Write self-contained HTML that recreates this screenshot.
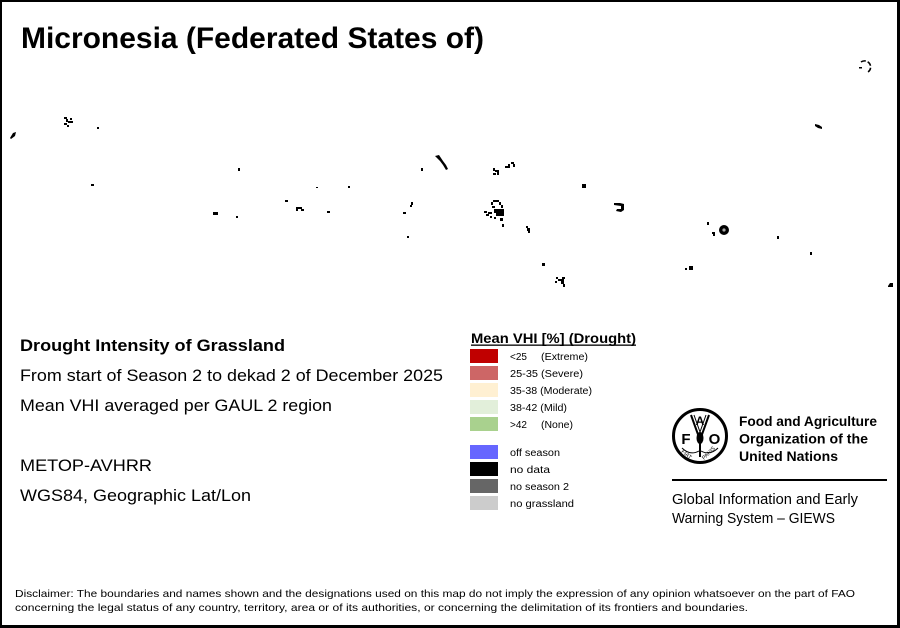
<!DOCTYPE html>
<html><head><meta charset="utf-8"><style>
html,body{margin:0;padding:0;background:#fff;}
svg{display:block;}
text{font-family:"Liberation Sans",Arial,sans-serif;fill:#000;}
</style></head><body>
<svg width="900" height="628" viewBox="0 0 900 628" xmlns="http://www.w3.org/2000/svg">
<rect x="0" y="0" width="900" height="628" fill="#fff"/>
<!-- frame -->
<rect x="1" y="1" width="897" height="625" fill="none" stroke="#000" stroke-width="2"/>
<rect x="897" y="0" width="3" height="628" fill="#000"/>
<rect x="0" y="626" width="900" height="2" fill="#000"/>

<!-- title -->
<text x="21" y="48" font-size="29.5" font-weight="bold" textLength="463" lengthAdjust="spacingAndGlyphs">Micronesia (Federated States of)</text>

<!-- islands -->
<g fill="#000">
<path d="M10 138 L13 133 L16 132 L15 136 L11 139 Z"/>
<rect x="64" y="117" width="3" height="2"/><rect x="66" y="119" width="2" height="3"/><rect x="68" y="121" width="5" height="2"/><rect x="64" y="123" width="3" height="2"/><rect x="67" y="125" width="2" height="2"/><rect x="70" y="118" width="2" height="2"/>
<rect x="97" y="127" width="2" height="2"/>
<rect x="91" y="184" width="3" height="2"/>
<rect x="238" y="168" width="2" height="3"/>
<rect x="285" y="200" width="3" height="2"/>
<rect x="296" y="207" width="2" height="4"/><rect x="298" y="207" width="4" height="2"/><rect x="301" y="209" width="3" height="2"/>
<rect x="316" y="187" width="2" height="1"/>
<rect x="327" y="211" width="3" height="2"/>
<rect x="348" y="186" width="2" height="2"/>
<rect x="213" y="212" width="5" height="3"/>
<rect x="236" y="216" width="2" height="2"/>
<rect x="421" y="168" width="2" height="3"/>
<path d="M435 156 L439 155 L441 158 L443 161 L446 165 L448 169 L446 170 L443 165 L440 161 L437 158 Z"/>
<rect x="493" y="168" width="2" height="3"/><rect x="495" y="170" width="4" height="2"/><rect x="493" y="173" width="3" height="2"/><rect x="497" y="172" width="2" height="3"/>
<rect x="505" y="166" width="3" height="2"/><rect x="508" y="164" width="2" height="4"/><rect x="511" y="162" width="3" height="2"/><rect x="513" y="164" width="2" height="3"/>
<rect x="582" y="184" width="4" height="4"/>
<rect x="411" y="202" width="2" height="3"/><rect x="410" y="205" width="2" height="2"/>
<rect x="403" y="212" width="3" height="2"/>
<rect x="407" y="236" width="2" height="2"/>
<!-- Chuuk -->
<rect x="493" y="200" width="6" height="2"/><rect x="491" y="202" width="2" height="3"/><rect x="499" y="202" width="2" height="3"/>
<rect x="501" y="205" width="2" height="3"/><rect x="492" y="206" width="3" height="2"/>
<rect x="494" y="209" width="10" height="4"/><rect x="496" y="213" width="8" height="3"/>
<rect x="484" y="211" width="3" height="2"/><rect x="488" y="212" width="4" height="2"/><rect x="486" y="214" width="3" height="2"/>
<rect x="490" y="216" width="2" height="2"/><rect x="494" y="217" width="2" height="2"/><rect x="500" y="218" width="3" height="3"/><rect x="502" y="224" width="2" height="3"/>
<rect x="526" y="226" width="2" height="2"/><rect x="527" y="228" width="3" height="3"/><rect x="528" y="231" width="2" height="2"/>
<rect x="542" y="263" width="3" height="3"/>
<rect x="556" y="277" width="2" height="2"/><rect x="558" y="279" width="6" height="2"/><rect x="562" y="277" width="3" height="2"/><rect x="561" y="281" width="3" height="3"/><rect x="563" y="284" width="2" height="3"/><rect x="555" y="281" width="2" height="2"/>
<path d="M614 203 L620 203 L624 204 L624 210 L621 212 L616 211 L617 209 L621 209 L621 206 L614 205 Z"/>
<rect x="707" y="222" width="2" height="3"/>
<rect x="712" y="232" width="3" height="2"/><rect x="713" y="234" width="2" height="2"/>
<circle cx="724" cy="230" r="5"/>
<rect x="777" y="236" width="2" height="3"/>
<rect x="810" y="252" width="2" height="3"/>
<rect x="685" y="268" width="2" height="2"/><rect x="689" y="266" width="4" height="4"/>
<path d="M815 124 L819 125 L822 127 L822 129 L818 128 L815 126 Z"/>
<path d="M888 286 L890 283 L893 283 L893 287 L888 287 Z"/>
</g>
<circle cx="724" cy="230" r="1.6" fill="#aaa"/>
<path d="M861 62 A5.5 5.5 0 1 1 868 72" fill="none" stroke="#000" stroke-width="1.6" stroke-dasharray="5 2"/>
<rect x="859" y="67" width="3" height="1.5" fill="#000"/>

<!-- left text -->
<text x="20" y="351" font-size="16.5" font-weight="bold" textLength="265" lengthAdjust="spacingAndGlyphs">Drought Intensity of Grassland</text>
<text x="20" y="381" font-size="16.5" textLength="423" lengthAdjust="spacingAndGlyphs">From start of Season 2 to dekad 2 of December 2025</text>
<text x="20" y="411" font-size="16.5" textLength="312" lengthAdjust="spacingAndGlyphs">Mean VHI averaged per GAUL 2 region</text>
<text x="20" y="471" font-size="16.5" textLength="132" lengthAdjust="spacingAndGlyphs">METOP-AVHRR</text>
<text x="20" y="501" font-size="16.5" textLength="231" lengthAdjust="spacingAndGlyphs">WGS84, Geographic Lat/Lon</text>

<!-- legend -->
<text x="471" y="343" font-size="13.5" font-weight="bold" textLength="165" lengthAdjust="spacingAndGlyphs">Mean VHI [%] (Drought)</text>
<rect x="471" y="344.5" width="165" height="1.3" fill="#000"/>
<rect x="470" y="349" width="28" height="14" fill="#C00000"/>
<rect x="470" y="366" width="28" height="14" fill="#CD6666"/>
<rect x="470" y="383" width="28" height="14" fill="#FFF0D2"/>
<rect x="470" y="400" width="28" height="14" fill="#E2EFDA"/>
<rect x="470" y="417" width="28" height="14" fill="#A9D18E"/>
<rect x="470" y="445" width="28" height="14" fill="#6666FF"/>
<rect x="470" y="462" width="28" height="14" fill="#000000"/>
<rect x="470" y="479" width="28" height="14" fill="#666666"/>
<rect x="470" y="496" width="28" height="14" fill="#CCCCCC"/>
<g font-size="10">
<text x="510" y="360">&lt;25</text><text x="541" y="360" textLength="47" lengthAdjust="spacingAndGlyphs">(Extreme)</text>
<text x="510" y="377" textLength="73" lengthAdjust="spacingAndGlyphs">25-35 (Severe)</text>
<text x="510" y="394" textLength="82" lengthAdjust="spacingAndGlyphs">35-38 (Moderate)</text>
<text x="510" y="411" textLength="57" lengthAdjust="spacingAndGlyphs">38-42 (Mild)</text>
<text x="510" y="428">&gt;42</text><text x="541" y="428" textLength="32" lengthAdjust="spacingAndGlyphs">(None)</text>
<text x="510" y="456" textLength="50" lengthAdjust="spacingAndGlyphs">off season</text>
<text x="510" y="473" textLength="40" lengthAdjust="spacingAndGlyphs">no data</text>
<text x="510" y="490" textLength="59" lengthAdjust="spacingAndGlyphs">no season 2</text>
<text x="510" y="507" textLength="64" lengthAdjust="spacingAndGlyphs">no grassland</text>
</g>

<!-- FAO logo -->
<g>
<circle cx="700" cy="436" r="26.5" fill="none" stroke="#000" stroke-width="3"/>
<text x="686" y="444" font-size="15" font-weight="bold" text-anchor="middle">F</text>
<text x="714.5" y="444" font-size="15" font-weight="bold" text-anchor="middle">O</text>
<text x="700" y="425" font-size="12" font-weight="bold" text-anchor="middle">A</text>
<path d="M691 415 L700 440 L709 415" fill="none" stroke="#000" stroke-width="2"/>
<path d="M694 415 L700 432 L706 415" fill="none" stroke="#000" stroke-width="1"/>
<ellipse cx="700" cy="438" rx="3.5" ry="6" fill="#000"/>
<rect x="699" y="443" width="2" height="14" fill="#000"/>
<path d="M682 448 Q690 456 699 451" fill="none" stroke="#000" stroke-width="1"/>
<path d="M718 448 Q710 456 701 451" fill="none" stroke="#000" stroke-width="1"/>
<text x="681" y="452" font-size="5.5" transform="rotate(40 681 452)">FIAT</text>
<text x="704" y="460" font-size="5.5" transform="rotate(-45 704 460)">PANIS</text>
</g>
<text x="739" y="426" font-size="14" font-weight="bold" textLength="138" lengthAdjust="spacingAndGlyphs">Food and Agriculture</text>
<text x="739" y="443.5" font-size="14" font-weight="bold" textLength="129" lengthAdjust="spacingAndGlyphs">Organization of the</text>
<text x="739" y="461" font-size="14" font-weight="bold" textLength="99" lengthAdjust="spacingAndGlyphs">United Nations</text>
<rect x="672" y="479" width="215" height="2" fill="#000"/>
<text x="672" y="504" font-size="14.5" textLength="186" lengthAdjust="spacingAndGlyphs">Global Information and Early</text>
<text x="672" y="523" font-size="14.5" textLength="163" lengthAdjust="spacingAndGlyphs">Warning System – GIEWS</text>

<!-- disclaimer -->
<text x="15" y="597" font-size="10.5" textLength="840" lengthAdjust="spacingAndGlyphs">Disclaimer: The boundaries and names shown and the designations used on this map do not imply the expression of any opinion whatsoever on the part of FAO</text>
<text x="15" y="611" font-size="10.5" textLength="733" lengthAdjust="spacingAndGlyphs">concerning the legal status of any country, territory, area or of its authorities, or concerning the delimitation of its frontiers and boundaries.</text>
</svg>
</body></html>
